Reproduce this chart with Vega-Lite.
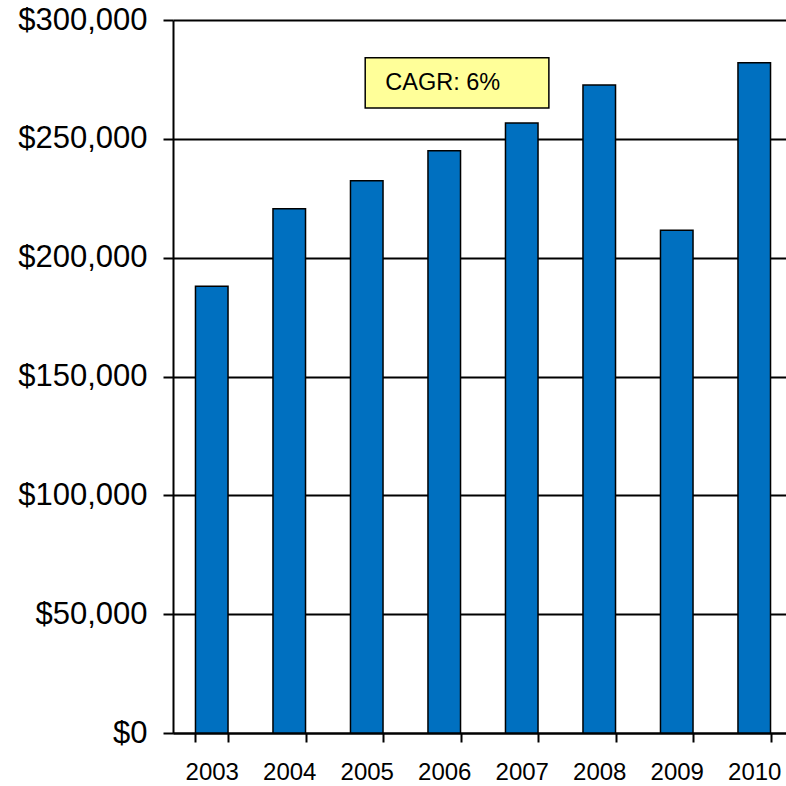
{
  "$schema": "https://vega.github.io/schema/vega-lite/v6.json",
  "width": 620,
  "height": 713,
  "autosize": {"type": "none"},
  "padding": {"left": 173, "top": 20, "right": 0, "bottom": 53},
  "background": "white",
  "config": {"view": {"stroke": null}, "font": "Liberation Sans"},
  "resolve": {"scale": {"x": "independent"}},
  "layer": [
    {
      "data": {"values": [
        {"year": "2003", "value": 188000},
        {"year": "2004", "value": 220600},
        {"year": "2005", "value": 232400},
        {"year": "2006", "value": 245000},
        {"year": "2007", "value": 256700},
        {"year": "2008", "value": 272600},
        {"year": "2009", "value": 211500},
        {"year": "2010", "value": 282000}
      ]},
      "mark": {"type": "bar", "fill": "#0070C0", "stroke": "black", "strokeWidth": 1.5},
      "encoding": {
        "x": {
          "field": "year", "type": "ordinal",
          "scale": {"paddingInner": 0.58, "paddingOuter": 0.29},
          "axis": {"title": null, "labelAngle": 0, "labelFontSize": 24, "labelColor": "black", "labelFont": "Liberation Sans",
                   "tickBand": "extent", "tickSize": 9, "tickColor": "black", "tickWidth": 2,
                   "domainColor": "black", "domainWidth": 2, "labelPadding": 18, "grid": false}
        },
        "y": {
          "field": "value", "type": "quantitative",
          "scale": {"domain": [0, 300000], "nice": false},
          "axis": {"title": null, "values": [0, 50000, 100000, 150000, 200000, 250000, 300000], "format": "$,.0f",
                   "labelFontSize": 31, "labelColor": "black", "labelFont": "Liberation Sans",
                   "tickSize": 10, "tickColor": "black", "tickWidth": 2, "labelPadding": 16,
                   "grid": true, "gridColor": "black", "gridWidth": 1.8, "gridOpacity": 1,
                   "domainColor": "black", "domainWidth": 2}
        }
      }
    },
    {
      "data": {"values": [{"x0": 2.48, "x1": 4.85, "y0": 262970, "y1": 284100}]},
      "mark": {"type": "rect", "fill": "#FFFF99", "stroke": "black", "strokeWidth": 1.5},
      "encoding": {
        "x": {"field": "x0", "type": "quantitative", "scale": {"domain": [0, 8], "nice": false, "zero": false}, "axis": null},
        "x2": {"field": "x1"},
        "y": {"field": "y0", "type": "quantitative", "title": null},
        "y2": {"field": "y1"}
      }
    },
    {
      "data": {"values": [{"tx": 2.74, "ty": 273600, "label": "CAGR: 6%"}]},
      "mark": {"type": "text", "align": "left", "baseline": "middle", "fontSize": 23.5, "color": "black", "font": "Liberation Sans"},
      "encoding": {
        "x": {"field": "tx", "type": "quantitative", "scale": {"domain": [0, 8], "nice": false, "zero": false}, "axis": null},
        "y": {"field": "ty", "type": "quantitative", "title": null},
        "text": {"field": "label"}
      }
    }
  ]
}
